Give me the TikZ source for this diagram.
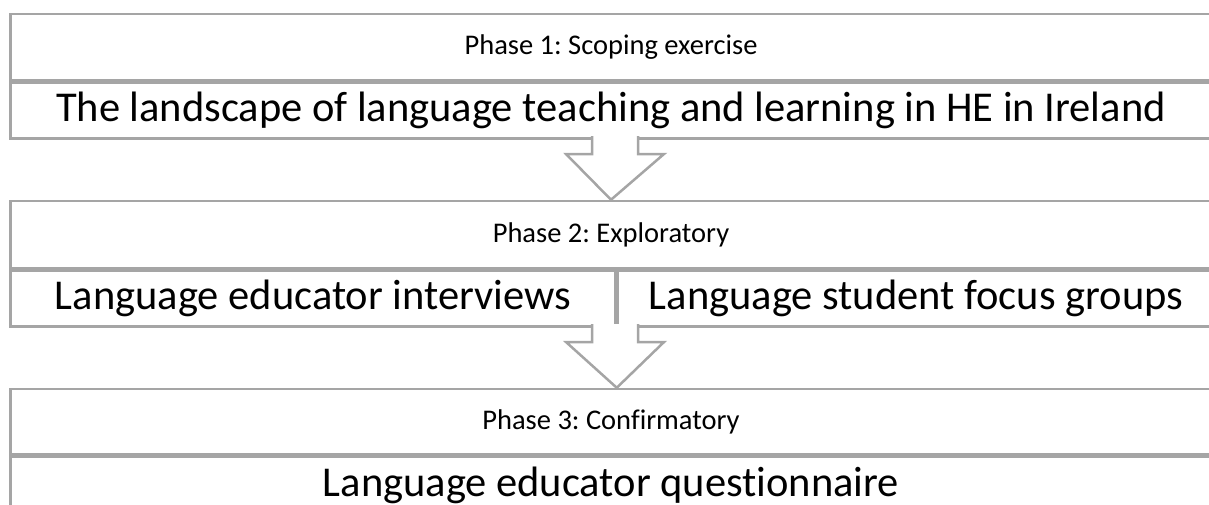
\documentclass[tikz,border=0pt]{standalone}
\usepackage{fontspec}
\setmainfont[Ligatures=NoCommon]{Carlito}
\usetikzlibrary{positioning}
\definecolor{framegray}{RGB}{165,165,165}
\frenchspacing
\tikzset{
  cell/.style={draw=framegray, line width=2.5pt, fill=white, inner sep=0pt, anchor=center},
  headcell/.style={cell, font=\fontsize{28.5}{32}\selectfont},
  bodycell/.style={cell, font=\fontsize{42.5}{48}\selectfont},
  flowarrow/.style={draw=framegray, line width=2.5pt, fill=white, line join=miter}
}
\begin{document}
\begin{tikzpicture}[x=1pt, y=-1pt]
  \useasboundingbox (0,0) rectangle (1209,504);

  % phase 1
  \node[headcell, minimum width=1201pt, minimum height=66pt] (p1head) at (611,47) {Phase 1: Scoping exercise};
  \node[bodycell, minimum width=1201pt, minimum height=56pt, below=0pt of p1head] (p1body) {The landscape of language teaching and learning in HE in Ireland};

  % phase 2
  \node[headcell, minimum width=1201pt, minimum height=67pt] (p2head) at (611,234.5) {Phase 2: Exploratory};
  \node[bodycell, minimum width=605pt, minimum height=56pt, anchor=north west] (p2left) at (p2head.south west) {Language educator interviews};
  \node[bodycell, minimum width=596pt, minimum height=56pt, anchor=north west] (p2right) at (p2left.north east) {Language student focus groups};

  % phase 3
  \node[headcell, minimum width=1201pt, minimum height=65pt] (p3head) at (611,421.5) {Phase 3: Confirmatory};
  \node[bodycell, minimum width=1201pt, minimum height=58pt, below=0pt of p3head] (p3body) {Language educator questionnaire};

  % arrows between the phases
  \draw[flowarrow] (592,136) -- (592,154) -- (566,154) -- (p2head.north -| p1body.south) -- (664,154) -- (638,154) -- (638,136);
  \draw[flowarrow] (592,324) -- (592,342) -- (566,342) -- (p3head.north -| p2left.south east) -- (664,342) -- (638,342) -- (638,324);
\end{tikzpicture}
\end{document}
